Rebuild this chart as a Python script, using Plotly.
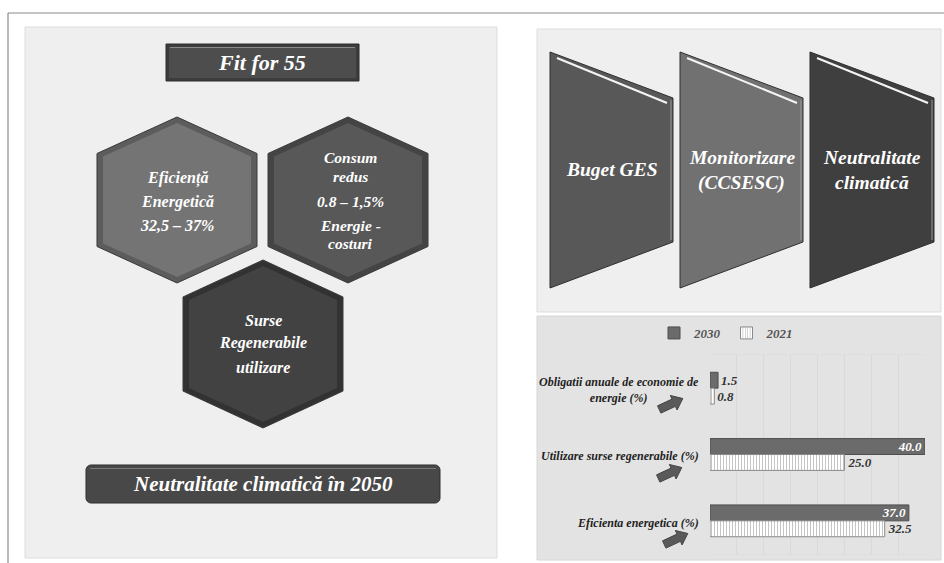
import math
import plotly.graph_objects as go

W, H = 944, 563

# ---- bar chart data ----
categories = [
    "Obligatii anuale de economie de<br>energie (%)",
    "Utilizare surse regenerabile (%)",
    "Eficienta energetica (%)",
]
values_2030 = [1.5, 40.0, 37.0]
values_2021 = [0.8, 25.0, 32.5]
series_names = ["2030", "2021"]

# ---- infographic texts ----
title_top = "Fit for 55"
title_bottom = "Neutralitate climatică în 2050"
hex_texts = [
    ["Eficiență", "Energetică", "32,5 – 37%"],
    ["Consum", "redus", "0.8 – 1,5%", "Energie -", "costuri"],
    ["Surse", "Regenerabile", "utilizare"],
]
chevron_texts = [["Buget GES"], ["Monitorizare", "(CCSESC)"], ["Neutralitate", "climatică"]]

SERIF = "Liberation Serif"


def fx(x):
    return x / W


def fy(y):
    return 1 - y / H


def poly_path(points):
    s = "M " + " L ".join(f"{fx(x):.5f} {fy(y):.5f}" for x, y in points)
    return s + " Z"


shapes = []
annotations = []


def rect(x0, y0, x1, y1, fill, line="rgba(0,0,0,0)", lw=1):
    shapes.append(dict(type="rect", xref="paper", yref="paper", layer="below",
                       x0=fx(x0), x1=fx(x1), y0=fy(y1), y1=fy(y0),
                       fillcolor=fill, line=dict(color=line, width=lw)))


def polygon(points, fill, line="rgba(0,0,0,0)", lw=1):
    shapes.append(dict(type="path", xref="paper", yref="paper", layer="below",
                       path=poly_path(points), fillcolor=fill,
                       line=dict(color=line, width=lw)))


def seg(x0, y0, x1, y1, color, lw=1):
    shapes.append(dict(type="line", xref="paper", yref="paper", layer="below",
                       x0=fx(x0), y0=fy(y0), x1=fx(x1), y1=fy(y1),
                       line=dict(color=color, width=lw)))


def label(x, y, text, size, color="white", anchor="center"):
    annotations.append(dict(x=fx(x), y=fy(y), xref="paper", yref="paper",
                            text=text, showarrow=False, xanchor=anchor, yanchor="middle",
                            font=dict(family=SERIF, size=size, color=color,
                                      weight="bold", style="italic")))


# ---- page frame ----
seg(8, 13, 944, 13, "#8a8a8a", 1.2)
seg(8, 13, 8, 563, "#8a8a8a", 1.2)

# ---- panels ----
rect(25, 27, 497, 558, "#efefef", "#dddddd")
rect(537, 29, 941, 312, "#efefef", "#dddddd")
rect(537, 316, 941, 560, "#e3e3e3", "#d6d6d6")

# ---- "Fit for 55" box ----
rect(166, 44, 359, 81, "#3c3c3c", "#2c2c2c")
rect(169, 47, 356, 78, "#4d4d4d")
seg(170, 47.5, 355, 47.5, "#8a8a8a", 1)
label(262, 62, title_top, 22)

# ---- hexagons ----
def hexagon(cx, top, bottom, w, base, edge):
    h = bottom - top
    k = 0.22 * h
    pts = [(cx, top), (cx + w / 2, top + k), (cx + w / 2, bottom - k),
           (cx, bottom), (cx - w / 2, bottom - k), (cx - w / 2, top + k)]
    polygon(pts, edge, "#3a3a3a", 1)
    d = 6
    inner = [(cx, top + d), (cx + w / 2 - d, top + k + d * 0.5), (cx + w / 2 - d, bottom - k - d * 0.5),
             (cx, bottom - d), (cx - w / 2 + d, bottom - k - d * 0.5), (cx - w / 2 + d, top + k + d * 0.5)]
    polygon(inner, base)


hexagon(177, 117, 283, 160, "#747474", "#5c5c5c")
hexagon(348, 117, 283, 160, "#585858", "#444444")
hexagon(263, 260, 428, 160, "#424242", "#323232")

for (cx, ys, size), lines in zip([(177, [178, 202, 225], 16),
                                  (350, [158, 177, 202, 225, 243], 15.5),
                                  (263, [320, 343, 367], 16)], hex_texts):
    for y, t in zip(ys, lines):
        label(cx, y, t, size)

# ---- bottom title box ----
r = 5
box = []
for (ccx, ccy, a0) in [(440 - r, 465 + r, -90), (440 - r, 503 - r, 0),
                       (86 + r, 503 - r, 90), (86 + r, 465 + r, 180)]:
    for i in range(7):
        a = math.radians(a0 + i * 15)
        box.append((ccx + r * math.cos(a), ccy + r * math.sin(a)))
polygon(box, "#484848", "#2e2e2e", 1)
seg(90, 468.5, 436, 468.5, "#7a7a7a", 1.2)
label(263, 484, title_bottom, 21)

# ---- chevron panels ----
chev = [(550, 673, "#585858"), (680, 803, "#717171"), (810, 934, "#3f3f3f")]
for (x0, x1, col), lines in zip(chev, chevron_texts):
    pts = [(x0, 52), (x1, 98), (x1, 242), (x0, 288)]
    polygon(pts, col, "#2f2f2f", 1)
    seg(x1 - 2, 100, x1 - 2, 240, "#9a9a9a", 1)
    seg(x0 + 7, 58, x1 - 6, 103, "#f4f4f4", 2)
    cx = (x0 + x1) / 2
    ys = [170] if len(lines) == 1 else [158, 183]
    for y, t in zip(ys, lines):
        label(cx, y, t, 19.5)

# ---- block arrows next to bar labels ----
def block_arrow(cx, cy, L=26, ang=-25):
    t, hw, head = 4, 8, 10
    local = [(-L / 2, -t), (L / 2 - head, -t), (L / 2 - head, -hw), (L / 2, 0),
             (L / 2 - head, hw), (L / 2 - head, t), (-L / 2, t)]
    a = math.radians(ang)
    pts = [(cx + x * math.cos(a) - y * math.sin(a), cy + x * math.sin(a) + y * math.cos(a))
           for x, y in local]
    polygon(pts, "#5a5a5a", "#444444", 1)


for cx, cy in [(671, 404), (670, 473), (676, 539)]:
    block_arrow(cx, cy)

# ---- category labels of the bar chart (centred lines, right edge by the axis) ----
for cat in categories:
    annotations.append(dict(x=fx(701), xref="paper", y=cat, yref="y", yshift=-2,
                            text=cat, showarrow=False, xanchor="right", yanchor="middle",
                            align="center",
                            font=dict(family=SERIF, size=12, color="#1f1f1f",
                                      weight="bold", style="italic")))

# ---- bar chart ----
bar_font = dict(family=SERIF, size=13, weight="bold", style="italic")
fig = go.Figure()
fig.add_trace(go.Bar(
    name=series_names[0], y=categories, x=values_2030, orientation="h",
    marker=dict(color="#6b6b6b", line=dict(color="#4e4e4e", width=1)),
    texttemplate="%{x:.1f}", textposition=["outside", "inside", "inside"],
    insidetextanchor="end", constraintext="none",
    insidetextfont=dict(bar_font, color="white"),
    outsidetextfont=dict(bar_font, color="#333333"),
))
fig.add_trace(go.Bar(
    name=series_names[1], y=categories, x=values_2021, orientation="h",
    marker=dict(color="white", line=dict(color="#8a8a8a", width=1),
                pattern=dict(shape="|", fgcolor="#8c8c8c", bgcolor="white",
                             size=3, solidity=0.35)),
    texttemplate="%{x:.1f}", textposition="outside", constraintext="none",
    outsidetextfont=dict(bar_font, color="#333333"),
))

fig.update_layout(
    width=W, height=H,
    margin=dict(l=0, r=0, t=0, b=0),
    paper_bgcolor="white", plot_bgcolor="white",
    barmode="group", bargap=0.52, bargroupgap=0,
    showlegend=True,
    legend=dict(orientation="h", x=fx(654), y=fy(333), xanchor="left", yanchor="middle",
                bgcolor="rgba(0,0,0,0)", traceorder="normal", itemwidth=30,
                font=dict(family=SERIF, size=13, color="#555555", weight="bold", style="italic")),
    xaxis=dict(domain=[fx(710), fx(925)], range=[0, 40], dtick=5, showticklabels=False,
               showgrid=True, gridcolor="#d9d9d9", zeroline=False,
               showline=True, mirror=True, linecolor="#dedede", fixedrange=True),
    yaxis=dict(domain=[fy(554), fy(355)], autorange="reversed", showgrid=False,
               ticks="", showticklabels=False, fixedrange=True),
    shapes=shapes,
    annotations=annotations,
)

fig.write_html("out.html")
